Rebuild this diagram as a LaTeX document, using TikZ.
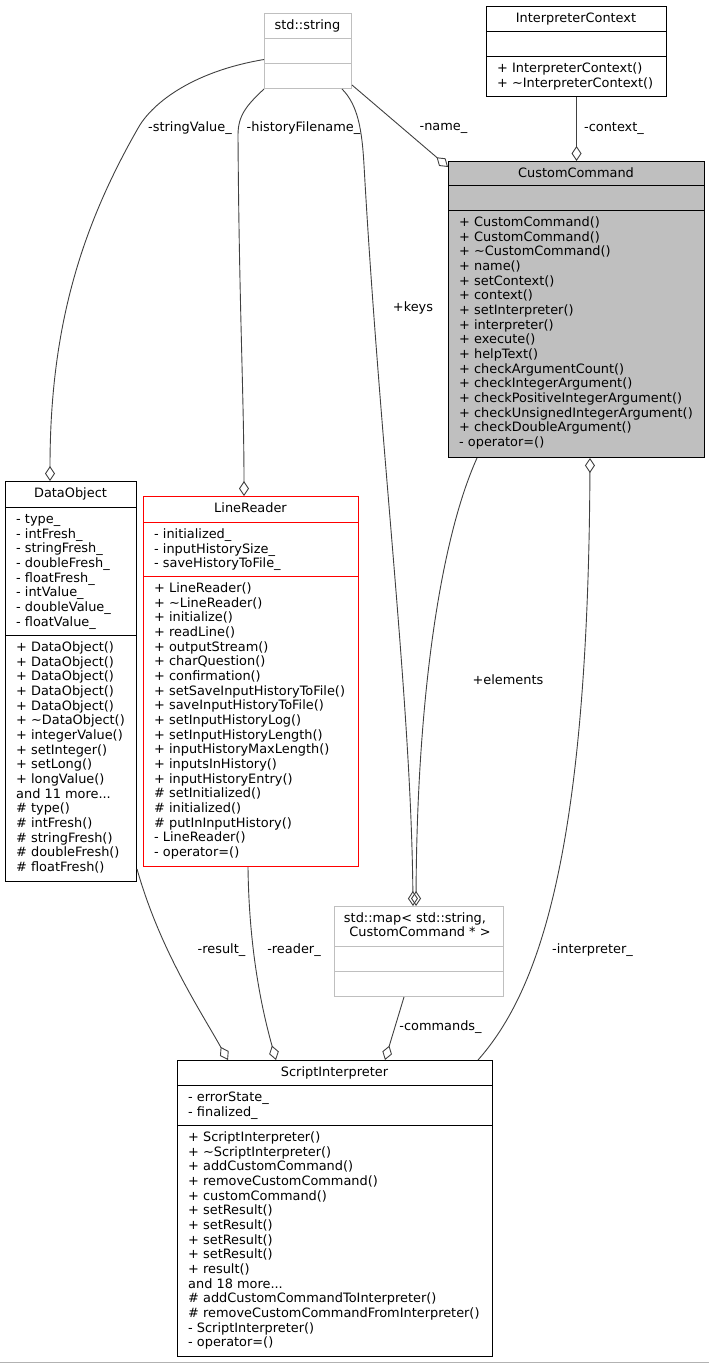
\documentclass[tikz,border=0pt]{standalone}
\usepackage{fontspec}
\setmainfont{DejaVu Sans}
\usetikzlibrary{arrows.meta,calc}
\definecolor{edgegray}{RGB}{64,64,64}
\definecolor{boxgray}{RGB}{191,191,191}
\definecolor{classred}{RGB}{255,0,0}
\newcommand{\moredots}{...}
\tikzset{
  umlbox/.style={draw, line width=1pt, anchor=north west, inner sep=0pt},
  member/.style={anchor=base west, inner sep=0pt},
  classtitle/.style={anchor=base, inner sep=0pt},
  edgelabel/.style={inner sep=0pt},
  agg/.style={draw=edgegray, line width=0.9pt, -{Diamond[open, length=15pt, width=10pt]}},
}
\begin{document}
\begin{tikzpicture}[x=1pt, y=-1pt, font=\fontsize{12.9}{14.67}\selectfont]
  \useasboundingbox (0,0) rectangle (709,1363);

  % std::string
  \node[umlbox, draw=boxgray, minimum width=87pt, minimum height=75pt] (str) at (264,13) {};
  \draw[boxgray, line width=1pt] (264,38) -- (351,38) (264,63) -- (351,63);
  \node[classtitle] (strtitle) at (307.5,29.5) {std::string};

  % InterpreterContext
  \node[umlbox, minimum width=180pt, minimum height=90pt] (ictx) at (486,6) {};
  \draw[line width=1pt] (486,31) -- (666,31) (486,56) -- (666,56);
  \node[classtitle] (ictxtitle) at (576,22.5) {InterpreterContext};
  \node[member] (ictxm1) at (497,72.5) {+ InterpreterContext()};
  \node[member] (ictxm2) at (497,87.2) {+ \textasciitilde InterpreterContext()};

  % CustomCommand
  \node[umlbox, fill=boxgray, minimum width=256pt, minimum height=296pt] (cmd) at (448,161) {};
  \draw[line width=1pt] (448,185) -- (704,185) (448,210) -- (704,210);
  \node[classtitle] (cmdtitle) at (576,177.5) {CustomCommand};
  \foreach \m [count=\i] in {+ CustomCommand(), + CustomCommand(), + \textasciitilde CustomCommand(),
      + name(), + setContext(), + context(), + setInterpreter(), + interpreter(), + execute(),
      + helpText(), + checkArgumentCount(), + checkIntegerArgument(),
      + checkPositiveIntegerArgument(), + checkUnsignedIntegerArgument(),
      + checkDoubleArgument(), - operator=()}
    \node[member] (cmdm\i) at (459,{226.5+(\i-1)*14.67}) {\m};

  % DataObject
  \node[umlbox, minimum width=131pt, minimum height=400pt] (dobj) at (5,481) {};
  \draw[line width=1pt] (5,507) -- (136,507) (5,635) -- (136,635);
  \node[classtitle] (dobjtitle) at (70.5,497.5) {DataObject};
  \foreach \m [count=\i] in {- type\_, - intFresh\_, - stringFresh\_, - doubleFresh\_,
      - floatFresh\_, - intValue\_, - doubleValue\_, - floatValue\_}
    \node[member] (dobja\i) at (16,{523.5+(\i-1)*14.67}) {\m};
  \foreach \m [count=\i] in {+ DataObject(), + DataObject(), + DataObject(), + DataObject(),
      + DataObject(), + \textasciitilde DataObject(), + integerValue(), + setInteger(),
      + setLong(), + longValue(), and 11 more\moredots, \# type(), \# intFresh(),
      \# stringFresh(), \# doubleFresh(), \# floatFresh()}
    \node[member] (dobjm\i) at (16,{651.5+(\i-1)*14.67}) {\m};

  % LineReader
  \node[umlbox, draw=classred, minimum width=215pt, minimum height=370pt] (lrd) at (143,496) {};
  \draw[classred, line width=1pt] (143,522) -- (358,522) (143,576) -- (358,576);
  \node[classtitle] (lrdtitle) at (250.5,512.5) {LineReader};
  \foreach \m [count=\i] in {- initialized\_, - inputHistorySize\_, - saveHistoryToFile\_}
    \node[member] (lrda\i) at (154,{538.5+(\i-1)*14.67}) {\m};
  \foreach \m [count=\i] in {+ LineReader(), + \textasciitilde LineReader(), + initialize(),
      + readLine(), + outputStream(), + charQuestion(), + confirmation(),
      + setSaveInputHistoryToFile(), + saveInputHistoryToFile(), + setInputHistoryLog(),
      + setInputHistoryLength(), + inputHistoryMaxLength(), + inputsInHistory(),
      + inputHistoryEntry(), \# setInitialized(), \# initialized(), \# putInInputHistory(),
      - LineReader(), - operator=()}
    \node[member] (lrdm\i) at (154,{592.5+(\i-1)*14.67}) {\m};

  % std::map
  \node[umlbox, draw=boxgray, minimum width=169pt, minimum height=90pt] (smap) at (334,906) {};
  \draw[boxgray, line width=1pt] (334,946) -- (503,946) (334,971) -- (503,971);
  \node[classtitle] (smaptitle1) at (415,922) {std::map< std::string,};
  \node[classtitle] (smaptitle2) at (420,936.7) {CustomCommand * >};

  % ScriptInterpreter
  \node[umlbox, minimum width=315pt, minimum height=296pt] (sint) at (177,1060) {};
  \draw[line width=1pt] (177,1085) -- (492,1085) (177,1125) -- (492,1125);
  \node[classtitle] (sinttitle) at (334.5,1076.5) {ScriptInterpreter};
  \foreach \m [count=\i] in {- errorState\_, - finalized\_}
    \node[member] (sinta\i) at (188,{1101.5+(\i-1)*14.67}) {\m};
  \foreach \m [count=\i] in {+ ScriptInterpreter(), + \textasciitilde ScriptInterpreter(),
      + addCustomCommand(), + removeCustomCommand(), + customCommand(), + setResult(),
      + setResult(), + setResult(), + setResult(), + result(), and 18 more\moredots,
      \# addCustomCommandToInterpreter(), \# removeCustomCommandFromInterpreter(),
      - ScriptInterpreter(), - operator=()}
    \node[member] (sintm\i) at (188,{1141.5+(\i-1)*14.67}) {\m};

  % aggregations
  \draw[agg] ([yshift=-8.5pt]str.west) .. controls (190,72) and (150,105) .. (137,130)
    .. controls (80,230) and (50,330) .. ([xshift=45pt]dobj.north west);
  \draw[agg] (str.south west) .. controls (247,105) and (238,115) .. (238,135)
    .. controls (239,300) and (244,400) .. ([xshift=101pt]lrd.north west);
  \draw[agg] ([xshift=78pt]str.south west) .. controls (358,105) and (362,130) .. (364,165)
    .. controls (380,450) and (411,700) .. ([xshift=79pt]smap.north west);
  \draw[agg] ([yshift=4pt]str.south east) -- ([yshift=-6pt]cmd.north west);
  \draw[agg] (ictx.south) -- (cmd.north);
  \draw[agg] ([xshift=29pt]cmd.south west) .. controls (440,540) and (417,700)
    .. ([xshift=82pt]smap.north west);
  \draw[agg] ([xshift=301pt]sint.north west) .. controls (540,990) and (588,850)
    .. ([xshift=142pt]cmd.south west);
  \draw[agg] ([yshift=13pt]dobj.south east) .. controls (160,950) and (200,1010)
    .. ([xshift=51pt]sint.north west);
  \draw[agg] ([xshift=105pt]lrd.south west) .. controls (249,950) and (262,1010)
    .. ([xshift=99pt]sint.north west);
  \draw[agg] ([xshift=70pt]smap.south west) -- ([xshift=208pt]sint.north west);

  % edge labels
  \node[edgelabel] (lstrval) at (190,128) {-stringValue\_};
  \node[edgelabel] (lhist) at (303.5,128) {-historyFilename\_};
  \node[edgelabel] (lname) at (443.5,128) {-name\_};
  \node[edgelabel] (lctx) at (614,128) {-context\_};
  \node[edgelabel] (lkeys) at (413,307.5) {+keys};
  \node[edgelabel] (lelem) at (508,680) {+elements};
  \node[edgelabel] (linterp) at (592.5,950) {-interpreter\_};
  \node[edgelabel] (lresult) at (221.5,950.5) {-result\_};
  \node[edgelabel] (lreader) at (294,950.5) {-reader\_};
  \node[edgelabel] (lcmds) at (440.5,1027) {-commands\_};

  \draw[gray!60, line width=1.2pt] (0,1362.3) -- (709,1362.3);
\end{tikzpicture}
\end{document}
